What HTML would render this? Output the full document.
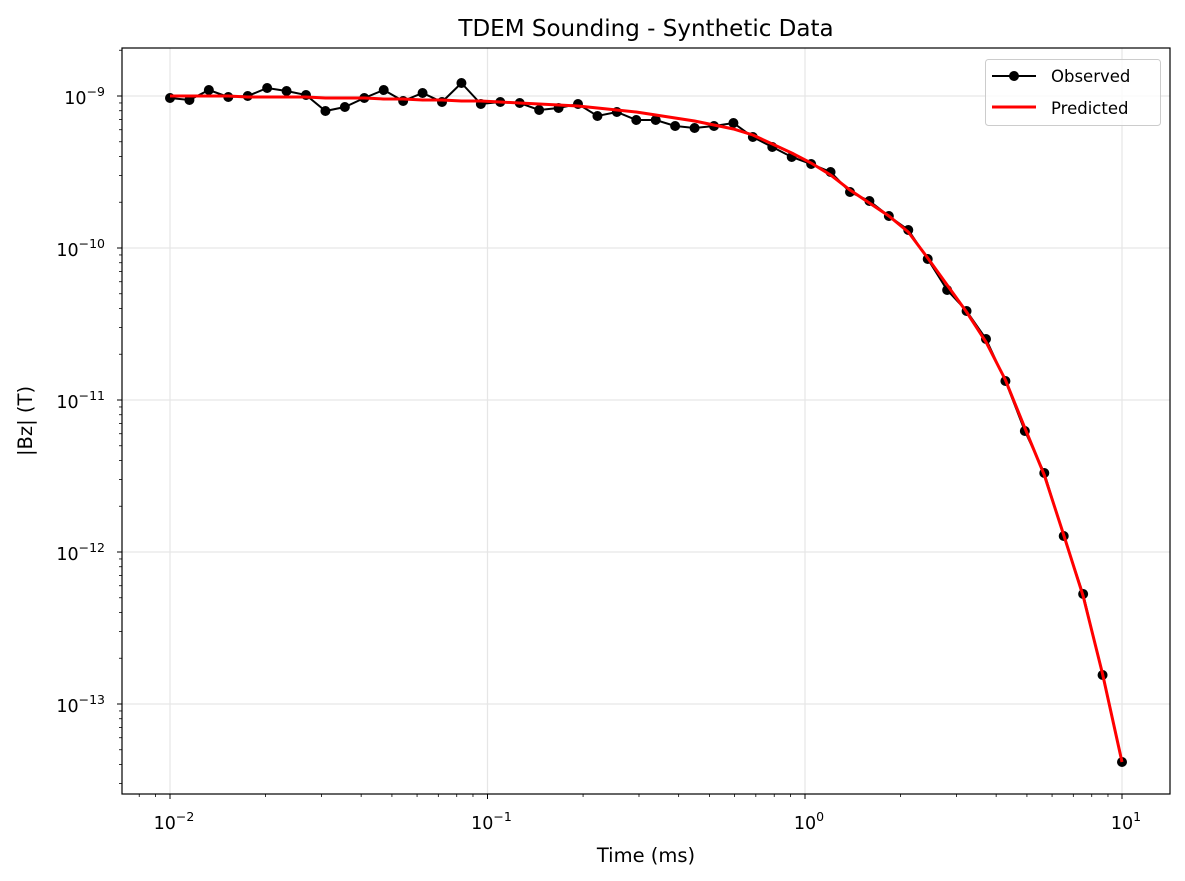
<!DOCTYPE html>
<html><head><meta charset="utf-8"><style>body{margin:0;background:#fff}svg{display:block}text{font-family:"DejaVu Sans","Liberation Sans",sans-serif}</style></head>
<body>
<svg id="s" width="1185" height="881" xmlns="http://www.w3.org/2000/svg"></svg>
<script>
const s=document.getElementById('s');let h='';
const L=122,R=1170,T=48,B=794;
const xs=[170,487.5,805,1122],ys=[96,248,400,552,704];
xs.forEach(x=>h+=`<line x1="${x}" y1="${T}" x2="${x}" y2="${B}" stroke="#e6e6e6" stroke-width="1.2"/>`);
ys.forEach(y=>h+=`<line x1="${L}" y1="${y}" x2="${R}" y2="${y}" stroke="#e6e6e6" stroke-width="1.2"/>`);
const sup=['−2','−1','0','1'];
xs.forEach((x,i)=>{h+=`<line x1="${x}" y1="${B}" x2="${x}" y2="${B+5}" stroke="#000"/>`;
h+=`<text x="${x+4}" y="${B+35}" font-size="17.5" text-anchor="middle">10<tspan dy="-8" font-size="12.5">${sup[i]}</tspan></text>`;});
for(let d=-1;d<4;d++)for(let m=2;m<10;m++){const x=170+(d+Math.log10(m))*317.5;if(x>L&&x<R)h+=`<line x1="${x}" y1="${B}" x2="${x}" y2="${B+3}" stroke="#000" stroke-width=".8"/>`;}
const ys2=['−9','−10','−11','−12','−13'];
ys.forEach((y,i)=>{h+=`<line x1="${L-5}" y1="${y}" x2="${L}" y2="${y}" stroke="#000"/>`;
h+=`<text x="${L-17}" y="${y+8}" font-size="17.5" text-anchor="end">10<tspan dy="-8" font-size="12.5">${ys2[i]}</tspan></text>`;});
for(let d=-1;d<6;d++)for(let m=2;m<10;m++){const y=96-152*(-d+Math.log10(m));if(y>T&&y<B)h+=`<line x1="${L-3}" y1="${y}" x2="${L}" y2="${y}" stroke="#000" stroke-width=".8"/>`;}
const ob=[98,100,90,97,96,88,91,95,111,107,98,90,101,93,102,83,104,102,103,110,108,104,116,112,120,120,126,128,126,123,137,147,157,164,172,192,201,216,230,259,290,311,339,381,431,473,536,594,675,762];
const pr=[96,96,96,96,97,97,97,97,98,98,98,99,99,100,100,101,101,102,103,104,105,106,108,110,112,115,118,121,125,129,135,144,153,163,175,190,203,216,232,258,285,312,342,380,428,475,535,596,674,762];
const X=i=>170+i*952/49;
h+=`<polyline fill="none" stroke="#000" stroke-width="2" points="${ob.map((y,i)=>X(i)+','+y).join(' ')}"/>`;
ob.forEach((y,i)=>h+=`<circle cx="${X(i)}" cy="${y}" r="5" fill="#000"/>`);
h+=`<polyline fill="none" stroke="#f00" stroke-width="3" points="${pr.map((y,i)=>X(i)+','+y).join(' ')}"/>`;
h+=`<rect x="${L}" y="${T}" width="${R-L}" height="${B-T}" fill="none" stroke="#000" stroke-width="1.2"/>`;
h+=`<rect x="985.5" y="59.5" width="175" height="66" rx="3" fill="#fff" fill-opacity=".8" stroke="#ccc"/>`;
h+=`<line x1="992" y1="76" x2="1036" y2="76" stroke="#000" stroke-width="2"/><circle cx="1014" cy="76" r="5"/>`;
h+=`<text x="1051" y="82" font-size="16.5">Observed</text>`;
h+=`<line x1="992" y1="107" x2="1036" y2="107" stroke="#f00" stroke-width="3"/><text x="1051" y="114" font-size="16.5">Predicted</text>`;
h+=`<text x="646" y="36" font-size="23" text-anchor="middle">TDEM Sounding - Synthetic Data</text>`;
h+=`<text x="646" y="862" font-size="19.5" text-anchor="middle">Time (ms)</text>`;
h+=`<text transform="translate(32,421) rotate(-90)" font-size="19.5" text-anchor="middle">|Bz| (T)</text>`;
s.innerHTML=h;
</script>
</body></html>
